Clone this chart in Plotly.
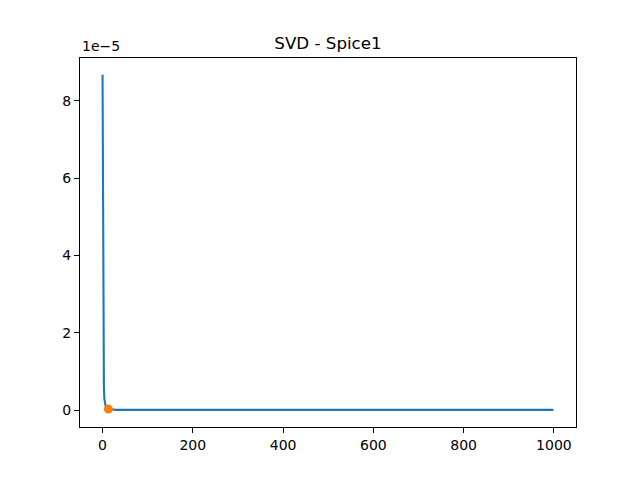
import plotly.graph_objects as go

# Singular values (in units of 1e-5)
head_values = [8.67, 4.1, 1.6, 0.6, 0.3, 0.18, 0.12, 0.09, 0.07, 0.055,
               0.045, 0.04, 0.035, 0.03, 0.028, 0.026, 0.024, 0.022, 0.02, 0.018]
n_total = 1000
tail_value = 0.01  # the remaining values sit on zero at this resolution
values = head_values + [tail_value] * (n_total - len(head_values))
indices = list(range(n_total))

knee_index = [13]
knee_value = [values[13]]

title_text = "SVD - Spice1"
offset_text = "1e\u22125"
x_ticks = [0, 200, 400, 600, 800, 1000]
y_ticks = [0, 2, 4, 6, 8]

font = "DejaVu Sans"

fig = go.Figure()
fig.add_trace(go.Scatter(x=indices, y=values, mode="lines",
                         line=dict(color="#1f77b4", width=2.1), showlegend=False))
fig.add_trace(go.Scatter(x=knee_index, y=knee_value, mode="markers",
                         marker=dict(color="#ff7f0e", size=9, line=dict(width=0)),
                         showlegend=False))

xmin, xmax = 0, n_total - 1
xm = (xmax - xmin) * 0.05
ymax = max(values)
ymin = 0
ym = (ymax - ymin) * 0.05

axis_common = dict(showgrid=False, zeroline=False, showline=True, linecolor="black",
                   linewidth=1.1, mirror=True, ticks="outside", ticklen=5, tickwidth=1.1,
                   tickcolor="black", tickfont=dict(family=font, size=14, color="black"))

fig.update_xaxes(range=[xmin - xm, xmax + xm], tickvals=x_ticks, **axis_common)
fig.update_yaxes(range=[ymin - ym, ymax + ym], tickvals=y_ticks, **axis_common)

fig.update_layout(
    width=640, height=480,
    margin=dict(l=80, r=64, t=57.6, b=52.8, pad=0),
    plot_bgcolor="white", paper_bgcolor="white",
    title=dict(text=title_text, x=0.5, xanchor="center", xref="paper",
               y=1 - 43 / 480, yref="container", yanchor="middle",
               font=dict(family=font, size=16.7, color="black")),
    annotations=[dict(text=offset_text, xref="paper", yref="paper", x=0, y=1,
                      xanchor="left", yanchor="bottom", yshift=2, showarrow=False,
                      font=dict(family=font, size=14, color="black"))],
)

fig.write_html("out.html", config={"displayModeBar": False},
               post_script="document.body.style.margin='0px';document.body.style.overflow='hidden';")
